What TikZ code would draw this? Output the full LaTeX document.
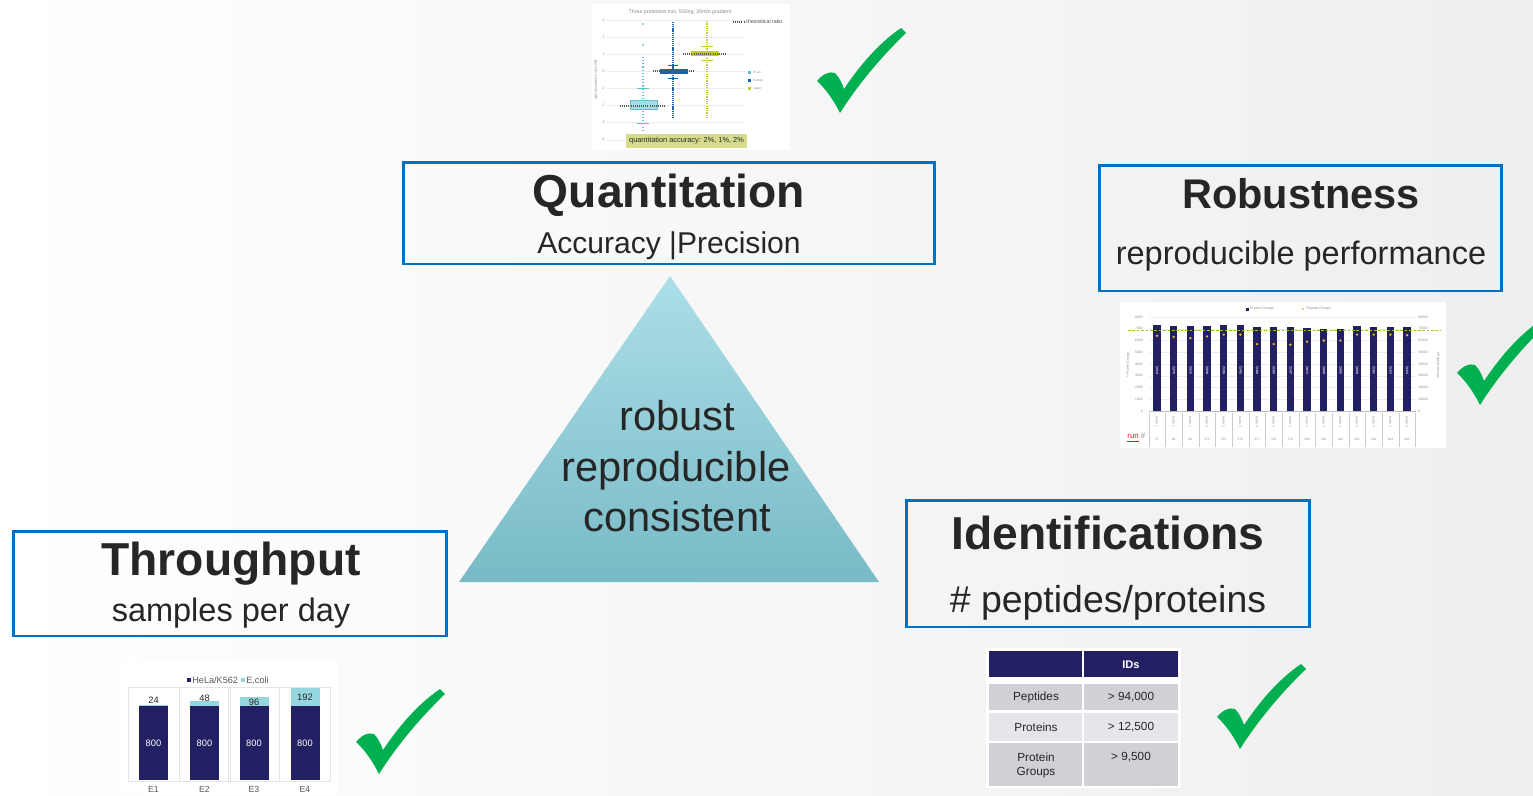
\documentclass[tikz,border=0pt]{standalone}
\usepackage{fontspec}
\setmainfont{Liberation Sans}
\usetikzlibrary{calc}

\newcommand{\ptsize}[1]{\fontsize{#1}{#1}\selectfont}

\definecolor{boxblue}{RGB}{0,112,192}
\definecolor{inktext}{RGB}{38,38,38}
\definecolor{navy}{RGB}{34,32,98}
\definecolor{ecolicyan}{RGB}{150,214,222}
\definecolor{okgreen}{RGB}{0,176,80}
\definecolor{tritop}{RGB}{172,223,232}
\definecolor{tribottom}{RGB}{120,186,198}
\definecolor{qcyan}{RGB}{96,192,208}
\definecolor{qblue}{RGB}{28,98,168}
\definecolor{qyellow}{RGB}{196,206,40}
\definecolor{qlabel}{RGB}{214,220,140}
\definecolor{rowdark}{RGB}{208,208,214}
\definecolor{rowlight}{RGB}{230,230,234}
\definecolor{peporange}{RGB}{240,180,40}
\definecolor{limedash}{RGB}{150,200,40}
\definecolor{axisgray}{RGB}{140,140,140}
\definecolor{runred}{RGB}{192,40,40}

\tikzset{
  txt/.style={inner sep=0pt, text=inktext},
  catbox/.style={draw=boxblue, line width=1.7pt, inner sep=0pt},
  cattitle/.style={txt, anchor=base, font=\ptsize{26.3}\bfseries},
  catsub/.style={txt, anchor=base},
  trianglewords/.style={txt, anchor=base, font=\ptsize{23.7}},
  small/.style={inner sep=0pt, text=axisgray},
  celltext/.style={inner sep=0pt, text=inktext, font=\ptsize{6.7}},
  pics/okmark/.style={code={
    \fill[okgreen] (0,53) .. controls (6,46) and (12,43) .. (18,45)
      .. controls (22,49) and (25,55) .. (27,61)
      .. controls (43,37) and (62,15) .. (84,0) -- (89,5)
      .. controls (63,30) and (40,58) .. (23,85)
      .. controls (17,73) and (9,61) .. (0,53) -- cycle;
  }},
}

\begin{document}
\begin{tikzpicture}[x=0.02cm, y=-0.02cm]
\useasboundingbox (0,0) rectangle (1533,795);
\clip (0,0) rectangle (1533,795);

% page background
\shade[left color=white, right color=gray!13] (0,0) rectangle (1533,795);

% ---------------- central triangle ----------------
\coordinate (apex) at (670,276);
\coordinate (baseL) at (459,582);
\coordinate (baseR) at (879,582);
\shade[top color=tritop, bottom color=tribottom] (apex) -- (baseR) -- (baseL) -- cycle;
\node[trianglewords] (w1) at (677,430) {robust};
\node[trianglewords] (w2) at (676,481) {reproducible};
\node[trianglewords] (w3) at (677,531) {consistent};

% ---------------- category boxes ----------------
\node[catbox, minimum width=10.64cm, minimum height=2.04cm] (quantbox) at (669,213) {};
\node[cattitle] (quanttitle) at (669,207) {Quantitation};
\node[catsub, font=\ptsize{17.1}] (quantsub) at (669,253) {Accuracy |Precision};

\node[catbox, minimum width=8.06cm, minimum height=2.52cm] (robbox) at (1300.5,228) {};
\node[cattitle, font=\ptsize{23.6}\bfseries] (robtitle) at (1301,208) {Robustness};
\node[catsub, font=\ptsize{18.5}] (robsub) at (1301,264) {reproducible performance};

\node[catbox, minimum width=8.08cm, minimum height=2.54cm] (idbox) at (1108,563.5) {};
\node[cattitle] (idtitle) at (1108,549) {Identifications};
\node[catsub, font=\ptsize{21.3}] (idsub) at (1108,612) {\# peptides/proteins};

\node[catbox, minimum width=8.68cm, minimum height=2.1cm] (thrbox) at (230,583.5) {};
\node[cattitle] (thrtitle) at (231,575) {Throughput};
\node[catsub, font=\ptsize{18.5}] (thrsub) at (231,621) {samples per day};

% ---------------- check marks ----------------
\pic at (817,28) {okmark};
\pic at (1457,320) {okmark};
\pic at (356,689) {okmark};
\pic at (1217,664) {okmark};

% ---------------- quantitation box plot ----------------
\fill[white] (592,4) rectangle (790,150);
\node[small, font=\ptsize{3}] (qtitle) at (680,12) {Three proteome mix, 500ng, 30min gradient};
\foreach \lab [count=\k from 0] in {3,2,1,0,-1,-2,-3,-4} {
  \pgfmathsetmacro\gy{20+17.1*\k}
  \draw[gray!15, line width=0.2pt] (607,\gy) -- (745,\gy);
  \node[small, font=\ptsize{2}, anchor=east] (qy\k) at (605,\gy) {\lab};
}
\node[small, rotate=90, font=\ptsize{2}] (qylab) at (596,80) {log2 abundance ratio A/B};
% E. coli
\draw[qcyan, line width=0.8pt, dash pattern=on 0.6pt off 1.2pt] (643,57) -- (643,132);
\fill[qcyan] (643,24) circle (1) (643,45) circle (1);
\filldraw[fill=qcyan!55, draw=qcyan, line width=0.3pt] (630,100) rectangle (657,109);
\draw[qcyan, line width=0.4pt] (637,88) -- (649,88) (637,123) -- (649,123);
\draw[black!65, line width=0.6pt, dash pattern=on 0.5pt off 0.7pt] (620,106) -- (665,106);
% human
\draw[qblue, line width=1.1pt, dash pattern=on 0.7pt off 0.5pt] (673,22) -- (673,118);
\fill[qblue] (660,69) rectangle (688,73.5);
\draw[qblue, line width=0.4pt] (668,65) -- (678,65) (668,78) -- (678,78);
\draw[black!65, line width=0.6pt, dash pattern=on 0.5pt off 0.7pt] (653,71) -- (695,71);
% yeast
\draw[qyellow, line width=1.1pt, dash pattern=on 0.7pt off 0.6pt] (707,21) -- (707,117);
\fill[qyellow] (691,51) rectangle (719,56);
\draw[qyellow, line width=0.4pt] (701,46) -- (713,46) (701,60) -- (713,60);
\draw[black!65, line width=0.6pt, dash pattern=on 0.5pt off 0.7pt] (683,54) -- (727,54);
% legend
\draw[black!70, line width=0.7pt, dash pattern=on 0.5pt off 0.7pt] (733,22) -- (744,22);
\node[small, anchor=west, font=\ptsize{3}, text=black!70] (qtheo) at (746,21.5) {theoretical ratio};
\fill[qcyan] (748,71) rectangle (751,74);
\fill[qblue] (748,79) rectangle (751,82);
\fill[qyellow] (748,87) rectangle (751,90);
\node[small, anchor=west, font=\ptsize{1.8}] (qlegA) at (753,72.5) {E.coli};
\node[small, anchor=west, font=\ptsize{1.8}] (qlegB) at (753,80.5) {human};
\node[small, anchor=west, font=\ptsize{1.8}] (qlegC) at (753,88.5) {yeast};
\node[fill=qlabel, text=inktext, inner sep=0pt, minimum width=2.42cm, minimum height=0.28cm,
      font=\ptsize{4.2}] (qacc) at (686.5,141) {quantitation accuracy: 2\%, 1\%, 2\%};

% ---------------- robustness bar chart ----------------
\fill[white] (1120,302) rectangle (1446,448);
\foreach \v in {0,...,8} {
  \pgfmathsetmacro\gy{411-11.75*\v}
  \draw[gray!15, line width=0.2pt] (1150,\gy) -- (1415,\gy);
  \node[small, anchor=east, font=\ptsize{1.9}] (rl\v) at (1143,\gy) {\the\numexpr\v*1000\relax};
  \node[small, anchor=west, font=\ptsize{1.9}] (rr\v) at (1418,\gy) {\the\numexpr\v*10000\relax};
}
\node[small, rotate=90, font=\ptsize{1.9}] (rylab) at (1128,365) {\# Protein Groups};
\node[small, rotate=-90, font=\ptsize{1.9}] (ryrab) at (1438,365) {\# Peptide Groups};
\fill[navy] (1245.5,307.5) rectangle (1248.5,310.5);
\node[small, anchor=west, font=\ptsize{2}] (rlegA) at (1250,309) {Protein Groups};
\fill[peporange] (1303,309) circle (1);
\node[small, anchor=west, font=\ptsize{2}] (rlegB) at (1306,309) {Peptide Groups};
\draw[gray!50, line width=0.3pt] (1149,411) -- (1416,411);
\foreach \val/\lab/\pep/\batch/\run [count=\i from 0] in {
   7314/{7,314}/64/1/97,   7275/{7,275}/63/1/98,   7215/{7,215}/62/1/99,
   7258/{7,258}/63.5/3/374, 7335/{7,335}/65/3/375, 7343/{7,343}/65/3/376,
   7180/{7,180}/57/4/377,  7182/{7,182}/57/4/378,  7147/{7,147}/56.5/4/379,
   7073/{7,073}/59/2/380,  7008/{7,008}/60/2/381,  7005/{7,005}/60/2/382,
   7208/{7,208}/65/4/401,  7161/{7,161}/65/4/402,  7153/{7,153}/65/4/403,
   7123/{7,123}/64.5/4/404} {
  \pgfmathsetmacro\cx{1157+16.67*\i}
  \pgfmathsetmacro\ty{411-0.01175*\val}
  \pgfmathsetmacro\py{411-1.175*\pep}
  \fill[navy] (\cx-3.6,411) rectangle (\cx+3.6,\ty);
  \node[rotate=-90, text=white, inner sep=0pt, font=\ptsize{1.8}\bfseries] (rb\i) at (\cx,370) {\lab};
  \fill[peporange] (\cx,\py) circle (1.3);
  \draw[gray!40, line width=0.2pt] (\cx-8.33,413) -- (\cx-8.33,447);
  \node[small, rotate=-90, font=\ptsize{1.8}] (rx\i) at (\cx,422) {batch \batch};
  \node[small, font=\ptsize{1.8}] (rn\i) at (\cx,439) {\run};
}
\draw[gray!40, line width=0.2pt] (1415,413) -- (1415,447);
\draw[limedash, line width=0.5pt, dash pattern=on 1.5pt off 1pt] (1128,330) -- (1441,330);
\node[small, anchor=west, font=\ptsize{4.5}] (runlab) at (1127,438) {\textcolor{runred}{\underline{run}} \#};

% ---------------- throughput stacked bars ----------------
\fill[white] (122,660) rectangle (338,795);
\fill[navy] (187,678) rectangle (191,682);
\node[small, anchor=west, font=\ptsize{5.2}, text=black!65] (tlegA) at (192,680) {HeLa/K562};
\fill[ecolicyan] (241,678) rectangle (245,682);
\node[small, anchor=west, font=\ptsize{5.2}, text=black!65] (tlegB) at (246,680) {E.coli};
\foreach \x/\ctop/\lab/\ly/\e in {153.5/704.5/24/700/E1, 204.5/701/48/698/E2,
                                  254/697/96/702/E3, 305/688/192/697/E4} {
  \draw[gray!20, line width=0.3pt] (\x-25.5,687) rectangle (\x+25.5,781);
  \fill[ecolicyan] (\x-14.5,\ctop) rectangle (\x+14.5,706);
  \fill[navy] (\x-14.5,706) rectangle (\x+14.5,780);
  \node[inner sep=0pt, text=white, font=\ptsize{5.3}] (t800\e) at (\x,743) {800};
  \node[inner sep=0pt, text=inktext, font=\ptsize{5.3}] (tval\e) at (\x,\ly) {\lab};
  \node[inner sep=0pt, text=black!65, font=\ptsize{5}] (tlab\e) at (\x,789) {\e};
}

% ---------------- identifications table ----------------
\fill[white] (986,648) rectangle (1181,788);
\fill[navy] (989,651) rectangle (1082,677);
\fill[navy] (1084,651) rectangle (1178,677);
\fill[rowdark] (989,684) rectangle (1082,710);
\fill[rowdark] (1084,684) rectangle (1178,710);
\fill[rowlight] (989,713) rectangle (1082,741);
\fill[rowlight] (1084,713) rectangle (1178,741);
\fill[rowdark] (989,743) rectangle (1082,786);
\fill[rowdark] (1084,743) rectangle (1178,786);
\node[inner sep=0pt, text=white, font=\ptsize{6.3}\bfseries] (idhead) at (1131,665) {IDs};
\node[celltext] (c11) at (1036,697) {Peptides};
\node[celltext] (c12) at (1131,697) {> 94,000};
\node[celltext] (c21) at (1036,727) {Proteins};
\node[celltext] (c22) at (1131,727) {> 12,500};
\node[celltext, align=center, font=\fontsize{6.7}{7.9}\selectfont] (c31) at (1036,765) {Protein\\Groups};
\node[celltext] (c32) at (1131,757) {> 9,500};
\end{tikzpicture}
\end{document}
